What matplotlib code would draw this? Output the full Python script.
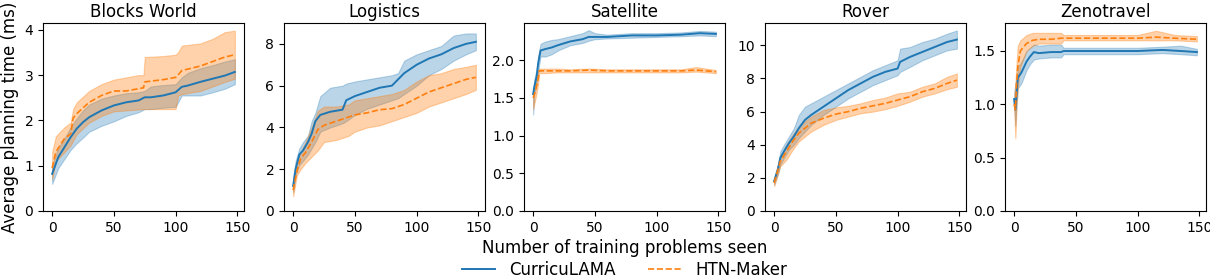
import matplotlib
matplotlib.use("Agg")
import matplotlib.pyplot as plt

titles = ["Blocks World", "Logistics", "Satellite", "Rover", "Zenotravel"]
series_names = ["CurricuLAMA", "HTN-Maker"]

# ---- Blocks World ----
bw_cur_x = [0, 5, 10, 15, 20, 25, 30, 40, 50, 60, 70, 75, 80, 90, 100, 105, 110, 120, 130, 140, 148]
bw_cur_mean = [0.82, 1.19, 1.41, 1.63, 1.82, 1.96, 2.07, 2.22, 2.33, 2.40, 2.44, 2.51, 2.51, 2.55, 2.62, 2.74, 2.77, 2.85, 2.92, 2.99, 3.07]
bw_cur_low = [0.60, 0.95, 1.15, 1.35, 1.50, 1.62, 1.75, 1.88, 1.98, 2.10, 2.18, 2.25, 2.25, 2.28, 2.30, 2.55, 2.55, 2.55, 2.62, 2.70, 2.80]
bw_cur_high = [1.00, 1.40, 1.60, 1.85, 2.05, 2.22, 2.35, 2.48, 2.55, 2.60, 2.62, 2.65, 2.75, 2.78, 2.80, 2.95, 3.05, 3.15, 3.22, 3.30, 3.35]
bw_htn_x = [0, 3, 10, 15, 17, 20, 30, 40, 50, 60, 70, 74, 75, 90, 100, 102, 105, 120, 130, 140, 148]
bw_htn_mean = [0.95, 1.30, 1.60, 1.70, 2.05, 2.15, 2.40, 2.55, 2.65, 2.65, 2.70, 2.72, 2.85, 2.90, 2.95, 3.00, 3.10, 3.20, 3.30, 3.40, 3.45]
bw_htn_low = [0.70, 1.10, 1.30, 1.45, 1.55, 1.70, 1.95, 2.10, 2.20, 2.22, 2.24, 2.25, 2.25, 2.25, 2.25, 2.55, 2.58, 2.65, 2.75, 2.85, 2.92]
bw_htn_high = [1.30, 1.65, 1.85, 1.95, 2.25, 2.40, 2.65, 2.80, 2.90, 2.95, 3.00, 3.00, 3.40, 3.42, 3.45, 3.50, 3.65, 3.70, 3.80, 3.95, 3.98]

# ---- Logistics ----
lg_cur_x = [0, 2, 5, 8, 12, 15, 18, 22, 30, 40, 43, 50, 60, 70, 80, 85, 90, 100, 110, 120, 130, 140, 148]
lg_cur_mean = [1.2, 2.0, 2.7, 2.9, 3.3, 3.7, 4.3, 4.6, 4.75, 4.85, 5.3, 5.5, 5.7, 5.9, 6.0, 6.3, 6.6, 7.0, 7.3, 7.5, 7.8, 8.0, 8.1]
lg_cur_low = [0.9, 1.7, 2.2, 2.4, 2.7, 3.0, 3.3, 3.8, 4.0, 4.2, 4.3, 4.6, 4.9, 5.1, 5.3, 5.4, 5.6, 6.0, 6.5, 6.8, 7.2, 7.5, 7.7]
lg_cur_high = [1.6, 2.4, 3.0, 3.3, 3.6, 4.3, 4.7, 5.5, 5.9, 6.0, 6.1, 6.2, 6.3, 6.4, 6.5, 6.6, 7.2, 7.5, 7.7, 7.9, 8.4, 8.5, 8.5]
lg_htn_x = [0, 3, 6, 10, 15, 20, 25, 35, 45, 50, 60, 70, 80, 90, 100, 110, 120, 130, 140, 148]
lg_htn_mean = [1.0, 1.9, 2.5, 2.8, 3.3, 3.9, 4.1, 4.3, 4.5, 4.6, 4.7, 4.85, 4.9, 5.1, 5.4, 5.7, 5.9, 6.1, 6.3, 6.4]
lg_htn_low = [0.7, 1.7, 2.0, 2.3, 2.6, 2.9, 3.3, 3.4, 3.6, 3.8, 4.0, 4.1, 4.3, 4.5, 4.7, 5.0, 5.2, 5.4, 5.6, 5.8]
lg_htn_high = [1.4, 2.4, 2.8, 3.3, 4.0, 4.8, 5.0, 5.0, 5.1, 5.3, 5.4, 5.5, 5.6, 5.8, 6.2, 6.5, 6.6, 6.8, 6.9, 7.0]

# ---- Satellite ----
st_cur_x = [0, 1, 3, 4, 6, 10, 15, 20, 30, 40, 45, 50, 60, 80, 100, 120, 135, 148]
st_cur_mean = [1.55, 1.65, 1.80, 1.95, 2.13, 2.15, 2.17, 2.20, 2.25, 2.28, 2.31, 2.31, 2.31, 2.33, 2.33, 2.34, 2.36, 2.35]
st_cur_low = [1.28, 1.55, 1.72, 1.85, 2.05, 2.05, 2.08, 2.13, 2.20, 2.23, 2.26, 2.28, 2.29, 2.30, 2.31, 2.32, 2.33, 2.32]
st_cur_high = [1.60, 1.75, 1.90, 2.05, 2.22, 2.25, 2.27, 2.28, 2.32, 2.36, 2.40, 2.36, 2.34, 2.36, 2.36, 2.37, 2.39, 2.38]
st_htn_x = [0, 2, 4, 5, 10, 20, 30, 45, 60, 80, 100, 120, 132, 148]
st_htn_mean = [1.50, 1.60, 1.75, 1.86, 1.86, 1.86, 1.86, 1.87, 1.86, 1.86, 1.86, 1.86, 1.87, 1.85]
st_htn_low = [1.35, 1.50, 1.68, 1.83, 1.83, 1.84, 1.84, 1.84, 1.84, 1.84, 1.84, 1.84, 1.85, 1.83]
st_htn_high = [1.60, 1.72, 1.85, 1.89, 1.89, 1.89, 1.88, 1.89, 1.88, 1.88, 1.88, 1.88, 1.91, 1.87]

# ---- Rover ----
rv_cur_x = [0, 3, 5, 8, 12, 16, 20, 25, 30, 40, 50, 60, 70, 80, 90, 100, 102, 110, 120, 130, 140, 148]
rv_cur_mean = [1.8, 2.5, 3.2, 3.6, 4.1, 4.5, 5.0, 5.5, 5.8, 6.3, 6.8, 7.3, 7.7, 8.1, 8.4, 8.6, 9.0, 9.3, 9.6, 9.9, 10.2, 10.35]
rv_cur_low = [1.6, 2.2, 2.8, 3.2, 3.7, 4.0, 4.4, 4.8, 5.2, 5.8, 6.3, 6.8, 7.2, 7.6, 7.9, 8.2, 8.4, 8.7, 9.1, 9.4, 9.7, 9.8]
rv_cur_high = [2.0, 2.8, 3.6, 4.0, 4.5, 5.0, 5.8, 6.3, 6.5, 6.9, 7.3, 7.7, 8.1, 8.5, 8.8, 9.1, 9.8, 9.9, 10.2, 10.4, 10.7, 10.9]
rv_htn_x = [0, 5, 10, 15, 20, 30, 40, 50, 60, 70, 80, 90, 100, 110, 120, 130, 140, 148]
rv_htn_mean = [1.7, 3.0, 3.6, 4.2, 4.7, 5.3, 5.6, 5.85, 6.0, 6.2, 6.35, 6.5, 6.7, 6.9, 7.2, 7.4, 7.7, 7.9]
rv_htn_low = [1.5, 2.7, 3.1, 3.7, 4.2, 4.8, 5.2, 5.5, 5.7, 5.9, 6.0, 6.15, 6.35, 6.6, 6.9, 7.1, 7.35, 7.5]
rv_htn_high = [1.9, 3.3, 4.0, 4.6, 5.1, 5.7, 6.1, 6.25, 6.35, 6.5, 6.7, 6.85, 7.1, 7.2, 7.5, 7.7, 8.1, 8.3]

# ---- Zenotravel ----
zn_cur_x = [0, 1, 2, 3, 6, 10, 13, 16, 20, 30, 38, 40, 60, 80, 100, 120, 135, 148]
zn_cur_mean = [1.05, 0.95, 1.10, 1.25, 1.30, 1.40, 1.45, 1.49, 1.48, 1.49, 1.49, 1.50, 1.50, 1.50, 1.50, 1.51, 1.50, 1.49]
zn_cur_low = [1.00, 0.80, 1.00, 1.15, 1.20, 1.32, 1.38, 1.42, 1.43, 1.44, 1.44, 1.47, 1.47, 1.47, 1.47, 1.48, 1.47, 1.46]
zn_cur_high = [1.10, 1.20, 1.22, 1.35, 1.40, 1.50, 1.53, 1.56, 1.55, 1.56, 1.56, 1.53, 1.53, 1.53, 1.53, 1.54, 1.55, 1.52]
zn_htn_x = [0, 1, 2, 3, 5, 10, 15, 20, 30, 38, 40, 60, 80, 100, 115, 130, 148]
zn_htn_mean = [1.00, 0.95, 1.20, 1.35, 1.50, 1.57, 1.60, 1.61, 1.61, 1.62, 1.62, 1.62, 1.62, 1.62, 1.63, 1.62, 1.61]
zn_htn_low = [0.95, 0.68, 1.00, 1.15, 1.35, 1.50, 1.55, 1.57, 1.57, 1.57, 1.60, 1.60, 1.60, 1.60, 1.60, 1.60, 1.59]
zn_htn_high = [1.05, 1.20, 1.40, 1.55, 1.60, 1.65, 1.67, 1.67, 1.67, 1.67, 1.65, 1.65, 1.65, 1.65, 1.69, 1.65, 1.64]

panels = [
    (bw_cur_x, bw_cur_mean, bw_cur_low, bw_cur_high, bw_htn_x, bw_htn_mean, bw_htn_low, bw_htn_high),
    (lg_cur_x, lg_cur_mean, lg_cur_low, lg_cur_high, lg_htn_x, lg_htn_mean, lg_htn_low, lg_htn_high),
    (st_cur_x, st_cur_mean, st_cur_low, st_cur_high, st_htn_x, st_htn_mean, st_htn_low, st_htn_high),
    (rv_cur_x, rv_cur_mean, rv_cur_low, rv_cur_high, rv_htn_x, rv_htn_mean, rv_htn_low, rv_htn_high),
    (zn_cur_x, zn_cur_mean, zn_cur_low, zn_cur_high, zn_htn_x, zn_htn_mean, zn_htn_low, zn_htn_high),
]

blue = "#1f77b4"
orange = "#ff7f0e"

fig = plt.figure(figsize=(12.1, 2.77), dpi=100)
W, H = 1210.0, 277.0
lefts = [43, 284, 524, 765, 1005]
aw = 201
top_px, bot_px = 23, 211
axes = []
for i, (title, p) in enumerate(zip(titles, panels)):
    ax = fig.add_axes([lefts[i] / W, 1 - bot_px / H, aw / W, (bot_px - top_px) / H])
    cx, cm, cl, ch, hx, hm, hl, hh = p
    ax.fill_between(cx, cl, ch, color=blue, alpha=0.3, linewidth=0.8)
    l1, = ax.plot(cx, cm, color=blue, lw=1.4, label=series_names[0])
    ax.fill_between(hx, hl, hh, color=orange, alpha=0.35, linewidth=0.8)
    l2, = ax.plot(hx, hm, color=orange, lw=1.2, ls="--", label=series_names[1])
    ax.set_title(title, fontsize=12, pad=4)
    ax.set_xticks([0, 50, 100, 150])
    ax.set_ylim(bottom=0)
    ax.tick_params(labelsize=10)
    axes.append(ax)

axes[0].set_ylim(0, 4.15)
axes[1].set_ylim(0, 9.0)
axes[2].set_ylim(0, 2.495)
axes[3].set_ylim(0, 11.35)
axes[4].set_ylim(0, 1.7625)
axes[2].set_yticks([0, 0.5, 1.0, 1.5, 2.0])
axes[4].set_yticks([0, 0.5, 1.0, 1.5])

axes[0].set_ylabel("Average planning time (ms)", fontsize=12)
cx_fig = (43 + 1206) / 2 / W
fig.text(cx_fig, 1 - 248 / H, "Number of training problems seen", ha="center", va="center", fontsize=12)
fig.legend(handles=[l1, l2], labels=series_names, loc="center", bbox_to_anchor=(cx_fig, 1 - 270 / H),
           ncol=2, frameon=False, fontsize=12, columnspacing=2.0, handlelength=2.0)

fig.savefig("out.png", dpi=100)
